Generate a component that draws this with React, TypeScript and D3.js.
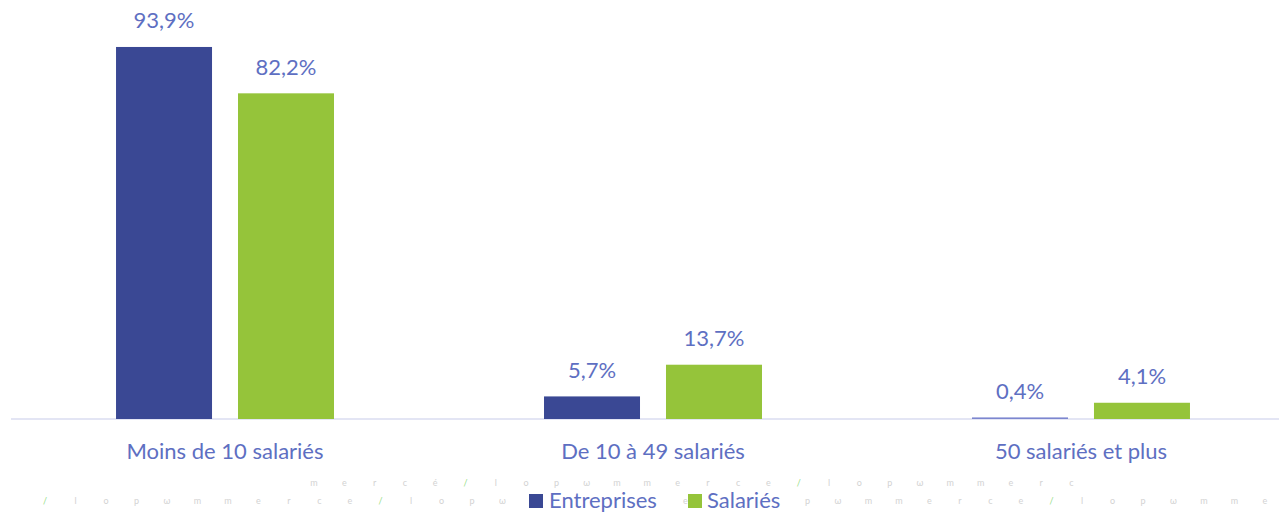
import React from "react";
import * as d3 from "d3";

const categories = ["Moins de 10 salariés", "De 10 à 49 salariés", "50 salariés et plus"];
const seriesNames = ["Entreprises", "Salariés"];
const entreprisesValues = [93.9, 5.7, 0.4];
const salariesValues = [82.2, 13.7, 4.1];
const valueLabels = [
  ["93,9%", "5,7%", "0,4%"],
  ["82,2%", "13,7%", "4,1%"],
];
const seriesColors = ["#3A4894", "#95C43A"];
const watermarkRow1 = "mercé/lopωmmerce/lopωmmerc".split("");
const watermarkRow2 = "/lopωmmerce/lopωmmerce/lopωmmerce/lopωmme".split("");
const watermarkRow2Hidden = [16, 17, 18, 19, 20, 22, 23, 24];

const W = 1279;
const H = 513;
const TEXT = "#5E6FC2";
const FONT = "Lato, 'Open Sans', sans-serif";

export default function App() {
  const x0 = d3
    .scaleBand<string>()
    .domain(categories)
    .range([11, 1295])
    .paddingInner(0.4907)
    .paddingOuter(0.2454);
  const x1 = d3
    .scaleBand<string>()
    .domain(seriesNames)
    .range([0, x0.bandwidth()])
    .paddingInner(0.213)
    .paddingOuter(0);
  const y = d3.scaleLinear().domain([0, 100]).range([419, 22.8]);
  const series = [entreprisesValues, salariesValues];

  const wm1 = d3.scaleLinear().domain([0, 1]).range([314, 344.3]);
  const wm2 = d3.scaleLinear().domain([0, 1]).range([45, 75.5]);

  return (
    <svg
      width={W}
      height={H}
      style={{ position: "absolute", left: 0, top: 0, background: "#fff" }}
      fontFamily={FONT}
    >
      {/* decorative watermark rows */}
      <g fontSize={9} textAnchor="middle" opacity={0.6}>
        {watermarkRow1.map((c, i) => (
          <text key={"a" + i} x={wm1(i)} y={486} fill={c === "/" ? "#4CC832" : "#B5B5B5"}>
            {c}
          </text>
        ))}
        {watermarkRow2.map((c, i) =>
          watermarkRow2Hidden.includes(i) ? null : (
            <text key={"b" + i} x={wm2(i)} y={504} fill={c === "/" ? "#4CC832" : "#B5B5B5"}>
              {c}
            </text>
          )
        )}
      </g>

      {/* axis line */}
      <line x1={11} x2={W} y1={419} y2={419} stroke="#DADDF1" strokeWidth={1.5} />

      {/* bars */}
      {categories.map((cat, ci) => (
        <g key={cat} transform={`translate(${x0(cat)},0)`}>
          {seriesNames.map((s, si) => {
            const v = series[si][ci];
            const bx = x1(s) as number;
            const top = y(v);
            return (
              <g key={s}>
                <rect
                  x={bx}
                  y={top}
                  width={x1.bandwidth()}
                  height={y(0) - top}
                  fill={v < 1 ? "#7C86CF" : seriesColors[si]}
                />
                <text
                  x={bx + x1.bandwidth() / 2}
                  y={top - 18.5}
                  textAnchor="middle"
                  fontSize={22}
                  fill={TEXT}
                >
                  {valueLabels[si][ci]}
                </text>
              </g>
            );
          })}
          <text
            x={x0.bandwidth() / 2}
            y={459}
            textAnchor="middle"
            fontSize={22}
            fill={TEXT}
          >
            {cat}
          </text>
        </g>
      ))}

      {/* legend */}
      <g>
        <rect x={529} y={494} width={14} height={14} fill={seriesColors[0]} />
        <text x={549} y={508} fontSize={22} fill={TEXT}>
          {seriesNames[0]}
        </text>
        <rect x={688} y={494} width={14} height={14} fill={seriesColors[1]} />
        <text x={707} y={508} fontSize={22} fill={TEXT}>
          {seriesNames[1]}
        </text>
      </g>
    </svg>
  );
}
